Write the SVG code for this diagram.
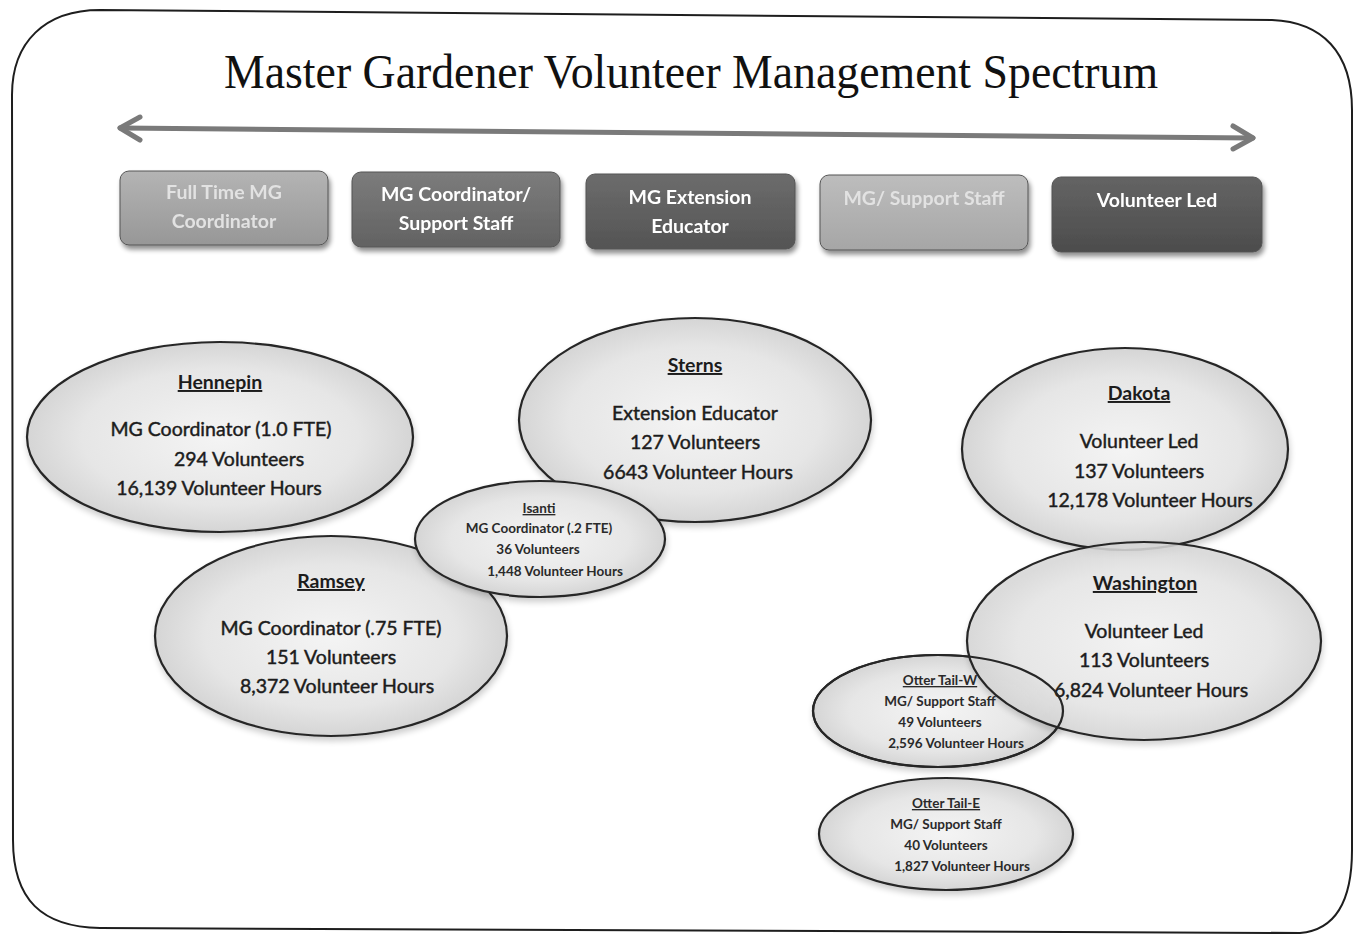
<svg xmlns="http://www.w3.org/2000/svg" width="1356" height="935" viewBox="0 0 1356 935">
<defs>
  <radialGradient id="eg" cx="50%" cy="50%" r="55%">
    <stop offset="0%" stop-color="#f4f4f4"/>
    <stop offset="65%" stop-color="#e6e6e6"/>
    <stop offset="100%" stop-color="#cfcfcf"/>
  </radialGradient>
  <linearGradient id="b1" x1="0" y1="0" x2="0" y2="1">
    <stop offset="0%" stop-color="#b4b4b4"/><stop offset="100%" stop-color="#979797"/>
  </linearGradient>
  <linearGradient id="b2" x1="0" y1="0" x2="0" y2="1">
    <stop offset="0%" stop-color="#7c7c7c"/><stop offset="100%" stop-color="#626262"/>
  </linearGradient>
  <linearGradient id="b3" x1="0" y1="0" x2="0" y2="1">
    <stop offset="0%" stop-color="#6c6c6c"/><stop offset="100%" stop-color="#545454"/>
  </linearGradient>
  <linearGradient id="b4" x1="0" y1="0" x2="0" y2="1">
    <stop offset="0%" stop-color="#bdbdbd"/><stop offset="100%" stop-color="#a6a6a6"/>
  </linearGradient>
  <linearGradient id="b5" x1="0" y1="0" x2="0" y2="1">
    <stop offset="0%" stop-color="#646464"/><stop offset="100%" stop-color="#4c4c4c"/>
  </linearGradient>
  <filter id="sh" x="-10%" y="-10%" width="125%" height="135%">
    <feGaussianBlur in="SourceAlpha" stdDeviation="2.5"/>
    <feOffset dx="2" dy="4" result="o"/>
    <feComponentTransfer><feFuncA type="linear" slope="0.45"/></feComponentTransfer>
    <feMerge><feMergeNode/><feMergeNode in="SourceGraphic"/></feMerge>
  </filter>
  <filter id="esh" x="-10%" y="-10%" width="125%" height="135%">
    <feGaussianBlur in="SourceAlpha" stdDeviation="3"/>
    <feOffset dx="1" dy="4" result="o"/>
    <feComponentTransfer><feFuncA type="linear" slope="0.2"/></feComponentTransfer>
    <feMerge><feMergeNode/><feMergeNode in="SourceGraphic"/></feMerge>
  </filter>
</defs>
<style>
  .frame{fill:#ffffff;stroke:#1e1e1e;stroke-width:2}
  .title{font-family:"Liberation Serif","Times New Roman",serif;font-size:48px;fill:#111}
  .box{stroke:#555;stroke-width:1}
  .bt{font-family:Lato,"Noto Sans",sans-serif;font-weight:bold;font-size:19.5px;text-anchor:middle;fill:#ffffff}
  .bt.lt{fill:#e2e2e2}
  .ell{fill:url(#eg);stroke:#262626;stroke-width:2.2}
  .et{font-family:Lato,"Noto Sans",sans-serif;font-size:19.5px;text-anchor:middle;fill:#1c1c1c;stroke:#1c1c1c;stroke-width:0.45}
  .eh{font-weight:bold;text-decoration:underline;stroke-width:0}
  .st{font-family:Lato,"Noto Sans",sans-serif;font-weight:bold;font-size:13.5px;text-anchor:middle;fill:#2a2a2a}
  .su{text-decoration:underline}
  .arr{fill:none;stroke:#7a7a7a;stroke-width:5;stroke-linecap:round;stroke-linejoin:round}
</style>

<path class="frame" d="M 100,10 L 1272,20 C 1322,22 1352,52 1352,110 L 1352,850 C 1352,900 1336,930 1300,933 L 100,928 C 42,927 13,900 13,840 L 12,95 C 12,42 45,10 100,10 Z"/>

<text class="title" x="224" y="88" textLength="934" lengthAdjust="spacingAndGlyphs">Master Gardener Volunteer Management Spectrum</text>

<g id="connectors">
  <path class="arr" d="M 120,128 L 1253,138"/>
  <path class="arr" d="M 140,117 L 120,128 L 140,140"/>
  <path class="arr" d="M 1233,126 L 1253,138 L 1233,149"/>
</g>

<g id="box-fulltime" filter="url(#sh)">
  <rect class="box" x="120" y="171" width="208" height="74" rx="9" fill="url(#b1)"/>
  <text class="bt lt" x="224" y="199">Full Time MG</text>
  <text class="bt lt" x="224" y="228">Coordinator</text>
</g>
<g id="box-coordinator" filter="url(#sh)">
  <rect class="box" x="352" y="172" width="208" height="75" rx="9" fill="url(#b2)"/>
  <text class="bt" x="456" y="201">MG Coordinator/</text>
  <text class="bt" x="456" y="230">Support Staff</text>
</g>
<g id="box-educator" filter="url(#sh)">
  <rect class="box" x="586" y="174" width="209" height="75" rx="9" fill="url(#b3)"/>
  <text class="bt" x="690" y="204">MG Extension</text>
  <text class="bt" x="690" y="233">Educator</text>
</g>
<g id="box-support" filter="url(#sh)">
  <rect class="box" x="820" y="175" width="208" height="75" rx="9" fill="url(#b4)"/>
  <text class="bt lt" x="924" y="205">MG/ Support Staff</text>
</g>
<g id="box-volunteer" filter="url(#sh)">
  <rect class="box" x="1052" y="177" width="210" height="75" rx="9" fill="url(#b5)"/>
  <text class="bt" x="1157" y="207">Volunteer Led</text>
</g>

<g id="node-stearns">
  <ellipse class="ell" filter="url(#esh)" cx="695" cy="420" rx="176" ry="102"/>
  <text class="et eh" x="695" y="372">Sterns</text>
  <text class="et" x="695" y="420">Extension Educator</text>
  <text class="et" x="695" y="449">127 Volunteers</text>
  <text class="et" x="698" y="479">6643 Volunteer Hours</text>
</g>

<g id="node-hennepin">
  <ellipse class="ell" filter="url(#esh)" cx="220" cy="437" rx="193" ry="95"/>
  <text class="et eh" x="220" y="389">Hennepin</text>
  <text class="et" x="221" y="436">MG Coordinator (1.0 FTE)</text>
  <text class="et" x="239" y="466">294 Volunteers</text>
  <text class="et" x="219" y="495">16,139 Volunteer Hours</text>
</g>

<g id="node-ramsey">
  <ellipse class="ell" filter="url(#esh)" cx="331" cy="636" rx="176" ry="100"/>
  <text class="et eh" x="331" y="588">Ramsey</text>
  <text class="et" x="331" y="635">MG Coordinator (.75 FTE)</text>
  <text class="et" x="331" y="664">151 Volunteers</text>
  <text class="et" x="337" y="693">8,372 Volunteer Hours</text>
</g>

<g id="node-isanti">
  <ellipse class="ell" filter="url(#esh)" cx="540" cy="539" rx="125" ry="58"/>
  <text class="st su" x="539" y="513">Isanti</text>
  <text class="st" x="539" y="533">MG Coordinator (.2 FTE)</text>
  <text class="st" x="538" y="554">36 Volunteers</text>
  <text class="st" x="555" y="576">1,448 Volunteer Hours</text>
</g>

<g id="node-dakota">
  <ellipse class="ell" filter="url(#esh)" cx="1125" cy="449" rx="163" ry="101"/>
  <text class="et eh" x="1139" y="400">Dakota</text>
  <text class="et" x="1139" y="448">Volunteer Led</text>
  <text class="et" x="1139" y="478">137 Volunteers</text>
  <text class="et" x="1150" y="507">12,178 Volunteer Hours</text>
</g>

<g id="node-ottertail-w">
  <ellipse class="ell" filter="url(#esh)" cx="938" cy="711" rx="125" ry="56"/>
</g>

<g id="node-washington">
  <ellipse class="ell" filter="url(#esh)" cx="1144" cy="641" rx="177" ry="99" fill-opacity="0.85"/>
  <text class="et eh" x="1145" y="590">Washington</text>
  <text class="et" x="1144" y="638">Volunteer Led</text>
  <text class="et" x="1144" y="667">113 Volunteers</text>
  <text class="et" x="1151" y="697">6,824 Volunteer Hours</text>
</g>

<g id="node-ottertail-w-text">
  <ellipse cx="938" cy="711" rx="125" ry="56" fill="none" stroke="#262626" stroke-width="2.2"/>
  <text class="st su" x="940" y="685">Otter Tail-W</text>
  <text class="st" x="940" y="706">MG/ Support Staff</text>
  <text class="st" x="940" y="727">49 Volunteers</text>
  <text class="st" x="956" y="748">2,596 Volunteer Hours</text>
</g>

<g id="node-ottertail-e">
  <ellipse class="ell" filter="url(#esh)" cx="946" cy="834" rx="127" ry="56"/>
  <text class="st su" x="946" y="808">Otter Tail-E</text>
  <text class="st" x="946" y="829">MG/ Support Staff</text>
  <text class="st" x="946" y="850">40 Volunteers</text>
  <text class="st" x="962" y="871">1,827 Volunteer Hours</text>
</g>
</svg>
